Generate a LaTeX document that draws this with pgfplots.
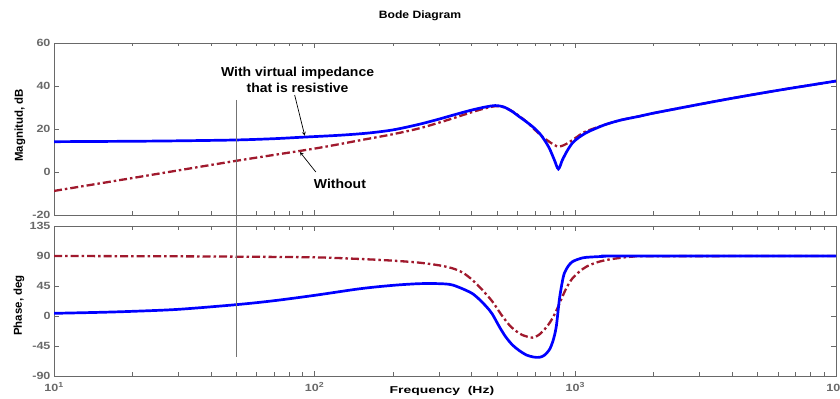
\documentclass[border=0pt]{standalone}
\usepackage{pgfplots}
\pgfplotsset{compat=1.18}
\usepackage{fontspec}
\setmainfont{Liberation Sans}
\newfontfamily\tickfont[FakeStretch=1.2]{Liberation Sans}
\newfontfamily\xlabfont[FakeStretch=1.4]{Liberation Sans}
\newfontfamily\titlefont[FakeStretch=1.14]{Liberation Sans}
\newfontfamily\annfont[FakeStretch=1.08]{Liberation Sans}
\definecolor{axgray}{RGB}{105,105,105}
\definecolor{myred}{RGB}{160,25,45}
\definecolor{myblue}{RGB}{0,0,255}

\pgfplotstableread{
f m
10 14.1
20 14.3
30 14.5
50 14.9
70 15.5
90 16.2
125 17.1
160 18.1
200 19.6
250 22.1
300 24.6
350 26.9
400 28.8
450 30.2
493 30.9
530 30.3
570 28.3
610 25.7
650 23.3
690 20.8
728 18.1
760 15.0
794 11.2
831 5.6
861 1.4
892 5.6
930 9.8
975 13.5
1030 16.0
1103 18.3
1200 20.3
1314 22.2
1500 24.2
1758 25.9
2000 27.4
3000 31.5
4000 34.3
6000 38.0
10000 42.3
}\bluemag

\pgfplotstableread{
f m
10 -8.8
20 -2.8
50 5.2
100 10.9
150 14.8
200 17.6
250 20.2
301 23.0
350 25.5
400 27.8
450 29.6
493 30.6
530 30.2
570 28.4
610 26.0
649 23.4
700 19.6
748 16.4
794 14.1
830 12.6
861 11.8
900 12.4
940 13.6
975 14.9
1020 16.5
1064 18.1
1103 19.0
1200 20.6
1314 22.2
1500 24.2
1758 25.9
2000 27.4
3000 31.5
4000 34.3
6000 38.0
10000 42.3
}\redmag

\pgfplotstableread{
f p
10 4
15 5.5
20 7
30 10
50 17
70 23
100 31
150 41
200 46
252 48.5
300 48.5
338 46.5
393 36
420 28
456 14
480 3
511 -16
540 -31
574 -43.5
610 -52
649 -58.5
690 -61.5
728 -62
760 -59
794 -51
820 -38
845 -16
868 24
890 50
907 64
940 75
975 81.5
1040 86
1103 88
1300 89.5
1475 90
10000 90
}\bluephase

\pgfplotstableread{
f p
10 90
30 89.5
50 89
100 88
150 85.5
200 83
252 80
300 76
338 71.5
370 65
403 54
440 39
481 21.5
520 2
558 -13.5
590 -22
626 -28.5
684 -32.5
720 -29
748 -23.5
785 -14
817 -3.5
850 10
892 29
930 44
975 56.5
1040 67
1103 74
1200 80
1314 84
1475 87
1652 89
2000 89.7
10000 90
}\redphase

\tikzset{
  redline/.style={myred, line width=2.3bp, dash pattern=on 8bp off 3bp on 2.5bp off 3bp, smooth},
  blueline/.style={myblue, line width=2.7bp, smooth},
}

\begin{document}
\begin{tikzpicture}[font=\bfseries]
\useasboundingbox (-54bp,-184bp) rectangle (786bp,215bp);
\node[font=\titlefont\bfseries\fontsize{10.7}{11}\selectfont] at (366bp,199bp) {Bode Diagram};
\begin{axis}[scale only axis, width=782bp, height=172bp,
    at={(0,0)}, anchor=south west,
    xmode=log, xmin=10, xmax=10000,
    axis line style={axgray, line width=0.8bp},
    every tick/.style={axgray, line width=0.7bp},
    tick align=inside,
    major tick length=5bp, minor tick length=3.5bp,
    xtick={10,100,1000,10000},
    minor xtick={20,30,40,50,60,70,80,90,200,300,400,500,600,700,800,900,2000,3000,4000,5000,6000,7000,8000,9000},
    tick label style={font=\tickfont\bfseries\fontsize{10.5}{10.5}\selectfont, text=axgray},
    /pgf/number format/assume math mode=true,
    ylabel style={at={(axis description cs:-0.0435,0.52)}, anchor=center, font=\bfseries\fontsize{11.5}{12}\selectfont},
    clip mode=individual,
    ymin=-20, ymax=60, ytick={-20,0,20,40,60},
    xticklabels={}, ylabel={Magnitud, dB}]
  \addplot[redline] table[x=f,y=m] {\redmag};
  \addplot[blueline] table[x=f,y=m] {\bluemag};
  \coordinate (vt) at (axis cs:50,33.5);
  \node[align=center, font=\annfont\bfseries\fontsize{13}{16}\selectfont] at (axis cs:86,42.8) {With virtual impedance\\that is resistive};
  \draw[-stealth, line width=0.7bp] (axis cs:83.8,35.8) -- (axis cs:91.6,16.9);
  \node[font=\annfont\bfseries\fontsize{13}{14}\selectfont] at (axis cs:125,-5.6) {Without};
  \draw[-stealth, line width=0.7bp] (axis cs:101,0) -- (axis cs:87.8,9.3);
\end{axis}
\begin{axis}[scale only axis, width=782bp, height=150bp,
    at={(0,-11bp)}, anchor=north west,
    xmode=log, xmin=10, xmax=10000,
    axis line style={axgray, line width=0.8bp},
    every tick/.style={axgray, line width=0.7bp},
    tick align=inside,
    major tick length=5bp, minor tick length=3.5bp,
    xtick={10,100,1000,10000},
    minor xtick={20,30,40,50,60,70,80,90,200,300,400,500,600,700,800,900,2000,3000,4000,5000,6000,7000,8000,9000},
    tick label style={font=\tickfont\bfseries\fontsize{10.5}{10.5}\selectfont, text=axgray},
    xticklabel style={yshift=-3bp},
    /pgf/number format/assume math mode=true,
    ylabel style={at={(axis description cs:-0.045,0.47)}, anchor=center, font=\bfseries\fontsize{11.5}{12}\selectfont},
    xlabel style={at={(axis description cs:0.496,0)}, yshift=-15bp, anchor=center, font=\xlabfont\bfseries\fontsize{10}{10}\selectfont},
    clip mode=individual,
    ymin=-90, ymax=135, ytick={-90,-45,0,45,90,135},
    xticklabels={{10\textsuperscript{1}},{10\textsuperscript{2}},{10\textsuperscript{3}},{10\textsuperscript{4}}},
    ylabel={Phase, deg}, xlabel={Frequency\ \ (Hz)}]
  \addplot[redline] table[x=f,y=p] {\redphase};
  \addplot[blueline] table[x=f,y=p] {\bluephase};
  \coordinate (vb) at (axis cs:50,-61);
\end{axis}
\draw[black!55, line width=0.6bp] (vt) -- (vb);
\end{tikzpicture}
\end{document}
